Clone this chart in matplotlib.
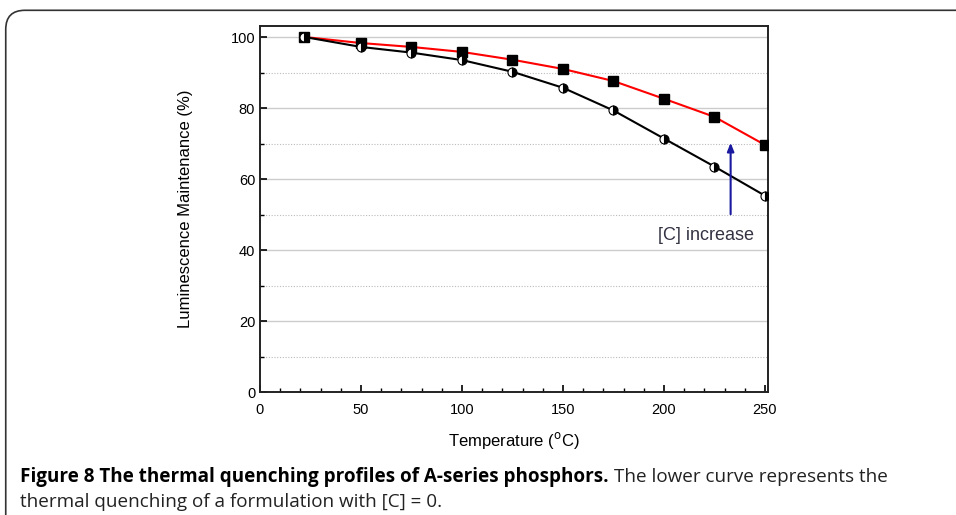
import matplotlib
matplotlib.use("Agg")
import matplotlib.pyplot as plt
from matplotlib.patches import FancyBboxPatch
from matplotlib.ticker import MultipleLocator

temps = [22, 50, 75, 100, 125, 150, 175, 200, 225, 250]
doped = [100, 98.3, 97.2, 95.8, 93.6, 91.0, 87.6, 82.6, 77.5, 69.6]
undoped = [100, 97.2, 95.6, 93.5, 90.2, 85.7, 79.3, 71.4, 63.5, 55.3]
xticks = [0, 50, 100, 150, 200, 250]
yticks = [0, 20, 40, 60, 80, 100]

fig = plt.figure(figsize=(9.56, 5.15), dpi=100)
fig.patch.set_facecolor("white")

# rounded frame
frame = FancyBboxPatch((0.006, -0.2), 1.2, 1.18, boxstyle="round,pad=0,rounding_size=0.02",
                       transform=fig.transFigure, fill=False, ec="#333333", lw=1.2,
                       mutation_aspect=956/515)
fig.patches.append(frame)

ax = fig.add_axes([260/956, 1-392/515, (768-260)/956, (392-26)/515])
ax.set_xlim(0, 251.5)
ax.set_ylim(0, 103.1)

for y in [20, 40, 60, 80, 100]:
    ax.axhline(y, color="#cccccc", lw=1.0, zorder=0)
for y in [10, 30, 50, 70, 90]:
    ax.axhline(y, color="#bbbbbb", lw=0.8, ls=(0, (1, 1.5)), zorder=0)

ax.plot(temps, doped, color="red", lw=1.5, marker="s", ms=6.5, mfc="black", mec="black", zorder=3)
ax.plot(temps, undoped, color="black", lw=1.5, marker="o", ms=6.5, fillstyle="right",
        mfc="black", mfcalt="white", mec="black", mew=0.8, zorder=3)

ax.annotate("", xy=(233, 71), xytext=(233, 49.3),
            arrowprops=dict(arrowstyle="-|>,head_width=0.2,head_length=0.5", color="#1a1aa0", lw=1.5))
ax.text(221, 44.2, "[C] increase", fontsize=13, color="#333344", ha="center", va="center",
        family="Liberation Sans")

ax.set_xticks(xticks)
ax.set_yticks(yticks)
ax.xaxis.set_minor_locator(MultipleLocator(10))
ax.yaxis.set_minor_locator(MultipleLocator(10))
ax.tick_params(which="both", direction="in", labelsize=10.5)
ax.tick_params(which="major", length=5, width=1.2)
ax.tick_params(which="minor", length=3, width=1.0)
for lab in ax.get_xticklabels() + ax.get_yticklabels():
    lab.set_family("Liberation Sans")
ax.tick_params(axis="x", pad=8)
for s in ax.spines.values():
    s.set_linewidth(1.4)
    s.set_color("#222222")

ax.set_xlabel(r"Temperature ($^{\rm o}$C)", fontsize=12, family="Liberation Sans", labelpad=9)
ax.set_ylabel("Luminescence Maintenance (%)", fontsize=12, family="Liberation Sans", labelpad=27)

cap_fs = 13.6
t1 = fig.text(20/956, 1-477/515, "Figure 8 The thermal quenching profiles of A-series phosphors.",
              fontsize=cap_fs, fontweight="bold", family="Open Sans", va="center", ha="left")
fig.canvas.draw()
bb = t1.get_window_extent(renderer=fig.canvas.get_renderer())
fig.text((bb.x1 + 5)/956, 1-477/515, "The lower curve represents the",
         fontsize=cap_fs, family="Open Sans", va="center", ha="left", color="#222222")
fig.text(20/956, 1-502/515, "thermal quenching of a formulation with [C] = 0.",
         fontsize=cap_fs, family="Open Sans", va="center", ha="left", color="#222222")

fig.savefig("out.png", dpi=100, facecolor="white")
